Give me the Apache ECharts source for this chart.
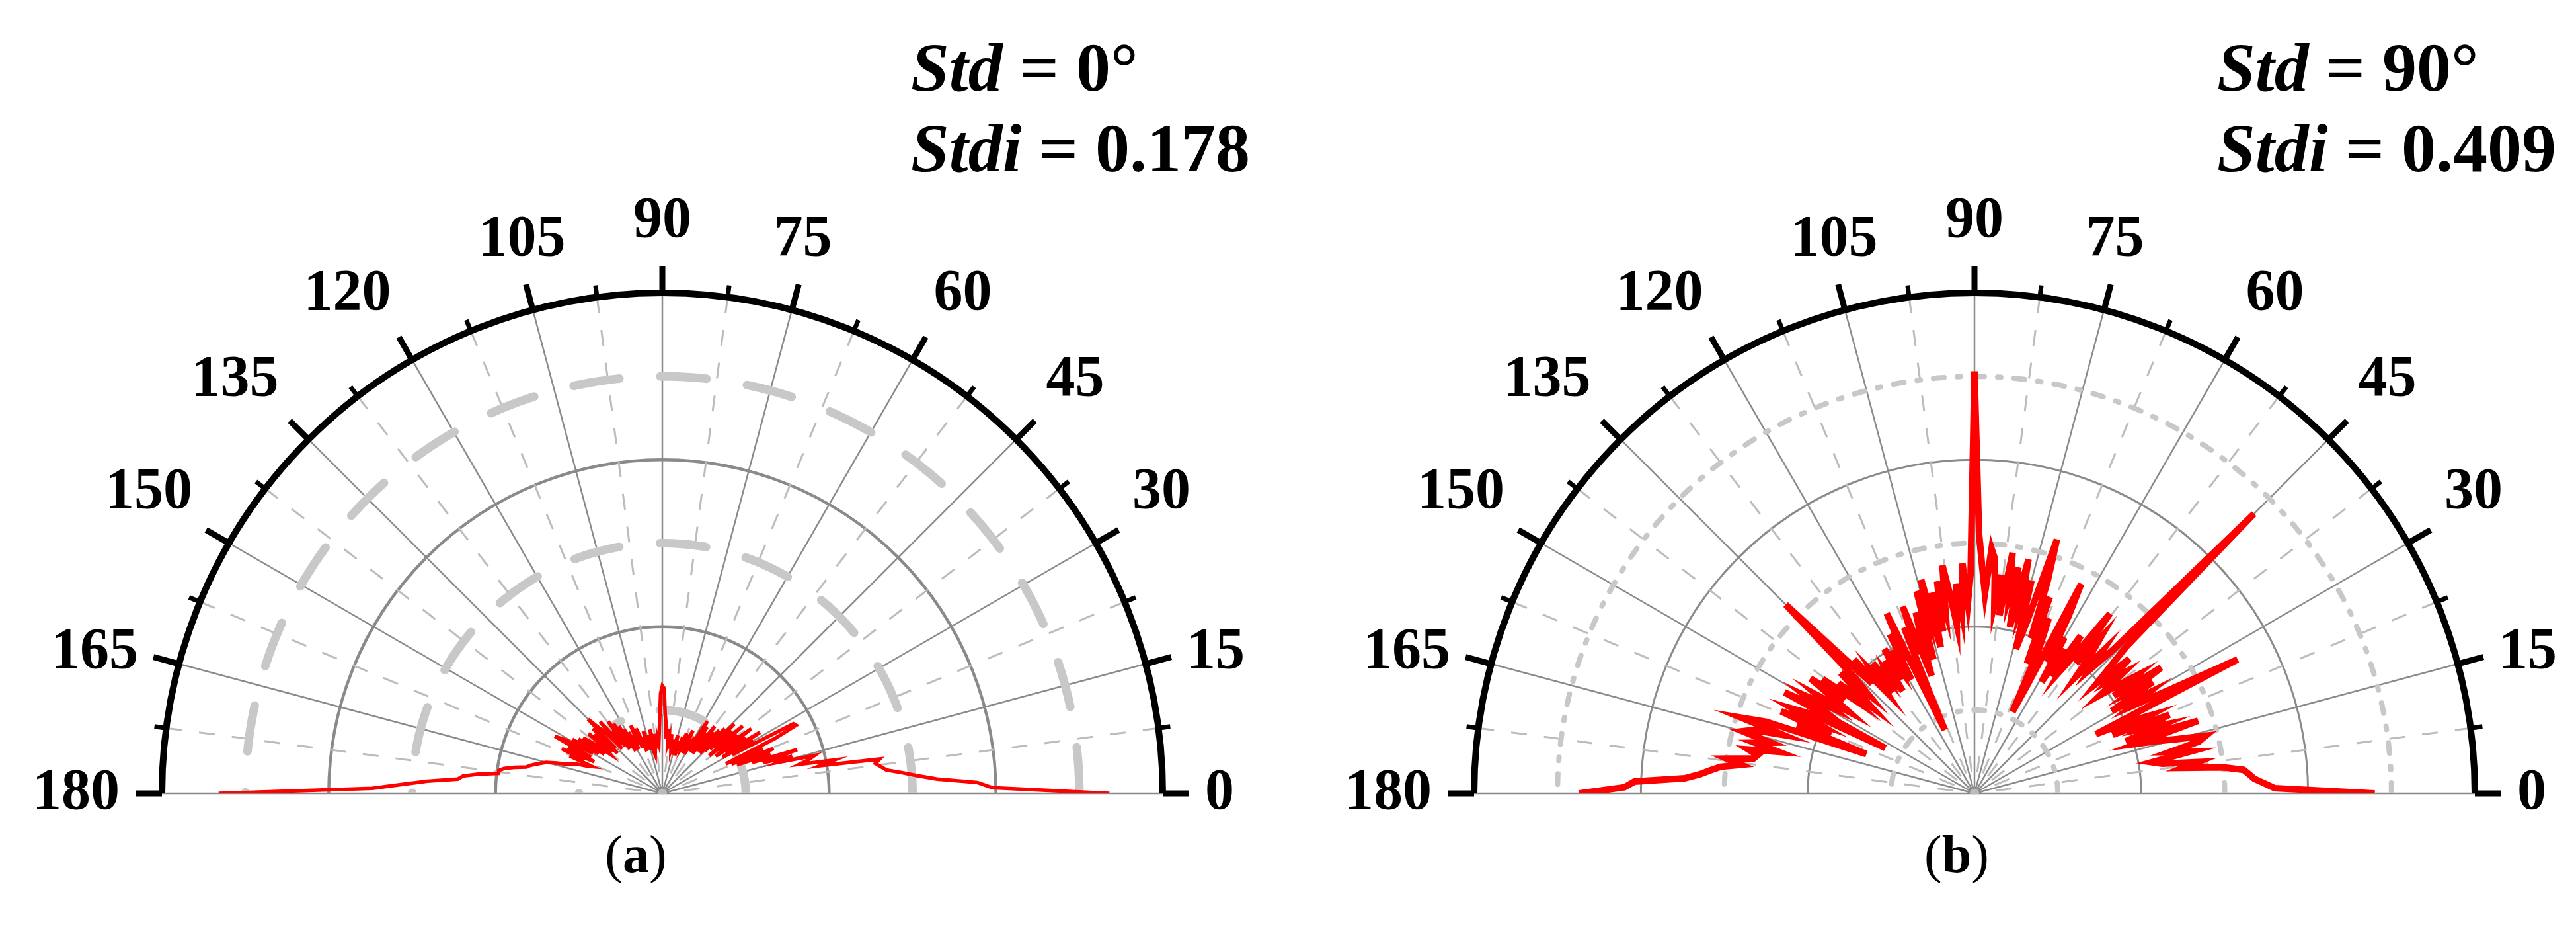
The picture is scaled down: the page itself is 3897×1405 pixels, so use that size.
<!DOCTYPE html>
<html>
<head>
<meta charset="utf-8">
<script src="https://cdn.jsdelivr.net/npm/echarts@6/dist/echarts.min.js"></script>
<style>
    html, body { margin: 0; padding: 0; background: #fff; }
    #chart { width: 3897px; height: 1405px; }
</style>
</head>
<body>
<div id="chart"></div>
<script>
// angle grid of the measured distributions (deg)
const anglesDeg = Array.from({ length: 181 }, (_, i) => i)

// (a) Std = 0°, radius (outer circle = 30)
const valuesA = [
    26.8, 19.8, 18.9, 16.5, 15.3, 14.4, 13.5, 13.2, 12.9, 13.2,
    9.6, 10.5, 8.4, 9.0, 9.4, 7.2, 8.1, 6.3, 8.5, 5.7,
    6.9, 4.8, 7.2, 4.5, 6.6, 4.2, 7.5, 9.0, 8.9, 4.8,
    6.3, 4.2, 6.9, 4.5, 6.0, 3.9, 6.6, 4.2, 5.7, 3.6,
    6.3, 4.2, 5.6, 3.9, 6.0, 3.6, 5.4, 3.3, 5.1, 3.6,
    4.8, 3.3, 5.1, 3.0, 4.5, 3.3, 4.8, 3.0, 5.1, 3.0,
    3.9, 2.7, 3.6, 3.0, 4.2, 2.7, 3.3, 3.0, 3.9, 2.7,
    3.6, 3.0, 2.4, 3.3, 2.7, 3.6, 3.0, 2.4, 3.3, 2.7,
    3.0, 3.6, 2.7, 3.3, 3.0, 3.9, 3.3, 4.2, 4.8, 6.3,
    6.45, 6.0, 4.5, 3.6, 3.0, 3.3, 2.7, 3.6, 3.0, 2.7,
    3.3, 3.9, 2.7, 3.0, 3.6, 2.7, 3.3, 3.9, 3.0, 3.6,
    2.7, 3.3, 4.2, 3.0, 3.6, 4.5, 3.3, 3.9, 3.0, 4.2,
    3.3, 4.5, 3.0, 4.8, 3.6, 5.1, 3.3, 5.4, 3.6, 4.8,
    3.9, 5.7, 3.6, 5.1, 5.4, 6.3, 3.9, 5.7, 3.6, 5.4,
    3.9, 5.7, 4.2, 3.9, 5.1, 5.8, 4.2, 6.0, 4.5, 6.3,
    4.8, 6.6, 7.3, 4.8, 6.3, 4.5, 6.6, 5.1, 6.0, 4.5,
    4.8, 5.4, 5.7, 6.0, 6.6, 7.2, 7.5, 7.8, 8.1, 8.3,
    9.0, 9.6, 9.9, 9.9, 11.1, 12.0, 12.3, 14.1, 15.6, 17.4,
    26.6
]

// (b) Std = 90°
const valuesB = [
    24.0, 18.0, 17.4, 16.8, 16.5, 16.2, 15.0, 12.6, 13.5, 11.4,
    10.8, 13.2, 12.0, 13.8, 14.3, 12.6, 11.4, 10.2, 14.1, 9.6,
    12.0, 10.8, 12.6, 9.0, 11.4, 10.2, 8.1, 17.7, 13.2, 10.8,
    12.0, 9.6, 12.6, 11.1, 13.5, 10.2, 12.0, 10.8, 9.6, 11.4,
    10.5, 12.3, 9.9, 11.1, 12.6, 23.7, 12.0, 10.2, 11.4, 9.3,
    10.8, 12.0, 9.9, 13.5, 10.5, 9.0, 11.4, 8.4, 10.2, 7.8,
    10.8, 9.0, 12.0, 14.1, 7.2, 5.4, 9.6, 11.4, 8.4, 12.6,
    9.9, 13.5, 16.0, 10.8, 9.0, 13.2, 11.4, 14.4, 10.2, 13.8,
    12.0, 14.6, 10.8, 13.2, 11.4, 14.1, 14.7, 12.0, 13.5, 15.6,
    25.3, 13.2, 11.4, 13.8, 10.8, 12.6, 10.2, 12.0, 13.8, 11.1,
    12.9, 9.9, 12.3, 9.0, 13.2, 10.8, 12.6, 8.4, 11.4, 9.6,
    7.5, 12.0, 9.0, 10.8, 6.6, 4.2, 12.0, 9.0, 10.8, 7.8,
    9.9, 8.7, 10.2, 8.1, 9.6, 7.5, 9.0, 8.4, 9.9, 7.8,
    9.3, 8.1, 10.8, 9.0, 11.4, 16.0, 9.9, 8.7, 10.8, 9.3,
    8.1, 10.5, 9.0, 11.4, 9.6, 12.0, 10.2, 9.0, 11.1, 9.9,
    11.7, 10.5, 12.9, 6.0, 10.8, 12.0, 10.2, 12.6, 9.3, 11.4,
    6.9, 13.2, 14.7, 12.0, 13.8, 14.4, 12.6, 13.5, 12.0, 13.8,
    13.2, 13.4, 15.0, 14.1, 15.3, 15.9, 16.5, 17.4, 20.4, 21.0,
    23.7
]

// thick dashed reference rings (radius values)
const ringLevels = [5, 15, 25]
const angleLabels = [0, 15, 30, 45, 60, 75, 90, 105, 120, 135, 150, 165, 180]
const stdTexts = ['0°', '90°']
const stdiTexts = ['0.178', '0.409']
const panelNames = ['a', 'b']

const centers = [[1002, 1200], [2987, 1200]]
const R = 757
const FONT = 'Liberation Serif, Times New Roman, serif'

let polar = []
let angleAxis = []
let radiusAxis = []
let series = []
let graphic = []

function addPanel(idx, values, redWidth, ringStyle, circleWidth) {
    polar.push({ center: centers[idx], radius: R })
    angleAxis.push({
        polarIndex: idx,
        type: 'value',
        min: 0,
        max: 180,
        interval: 15,
        startAngle: 0,
        endAngle: 180,
        clockwise: false,
        axisLine: { lineStyle: { color: '#000', width: 10 } },
        axisTick: { length: 40, lineStyle: { color: '#000', width: 9 } },
        minorTick: { show: true, splitNumber: 2, length: 18, lineStyle: { color: '#000', width: 7 } },
        axisLabel: {
            margin: 64,
            fontSize: 88,
            fontWeight: 'bold',
            fontFamily: FONT,
            color: '#000',
            formatter: v => angleLabels.indexOf(v) >= 0 ? String(v) : ''
        },
        splitLine: { lineStyle: { color: '#8a8a8a', width: 2.5 } },
        minorSplitLine: { show: true, lineStyle: { color: '#bcbcbc', width: 3, type: [24, 26] } }
    })
    radiusAxis.push({
        polarIndex: idx,
        type: 'value',
        min: 0,
        max: 30,
        interval: 10,
        axisLine: { show: false },
        axisTick: { show: false },
        axisLabel: { show: false },
        splitLine: { lineStyle: { color: ['#8a8a8a', '#8a8a8a', '#8a8a8a', '#000'], width: circleWidth } }
    })
    ringLevels.forEach(lv => {
        series.push({
            type: 'line',
            coordinateSystem: 'polar',
            polarIndex: idx,
            symbol: 'none',
            silent: true,
            z: 1,
            lineStyle: ringStyle,
            data: anglesDeg.map(a => [lv, a])
        })
    })
    series.push({
        type: 'line',
        coordinateSystem: 'polar',
        polarIndex: idx,
        symbol: 'none',
        z: 3,
        lineStyle: { color: '#ff0000', width: redWidth, join: 'miter' },
        data: values.map((v, i) => [v, anglesDeg[i]])
    })

    // Std / Stdi annotation
    const tx = [1378, 3354][idx]
    graphic.push({
        type: 'text',
        left: tx,
        top: 58,
        style: {
            text: '{i|Std}{b| = ' + stdTexts[idx] + '}\n{i|Stdi}{b| = ' + stdiTexts[idx] + '}',
            rich: {
                i: { fontFamily: FONT, fontSize: 104, fontWeight: 'bold', fontStyle: 'italic', fill: '#000', lineHeight: 122 },
                b: { fontFamily: FONT, fontSize: 104, fontWeight: 'bold', fill: '#000', lineHeight: 122 }
            }
        }
    })
    // caption
    graphic.push({
        type: 'text',
        x: [962, 2960][idx],
        y: 1298,
        style: {
            text: '{p|(}{b|' + panelNames[idx] + '}{p|)}',
            align: 'center',
            verticalAlign: 'middle',
            rich: {
                p: { fontFamily: FONT, fontSize: 80, fill: '#000' },
                b: { fontFamily: FONT, fontSize: 80, fontWeight: 'bold', fill: '#000' }
            }
        }
    })
}

addPanel(0, valuesA, 5.5, { color: '#c8c8c8', width: 13, type: [70, 62], cap: 'round' }, 4.5)
addPanel(1, valuesB, 10, { color: '#c8c8c8', width: 8, type: [16, 20, 5, 20], cap: 'round' }, 3)

const myChart = echarts.init(document.getElementById('chart'))
myChart.setOption({
    animation: false,
    backgroundColor: '#fff',
    polar: polar,
    angleAxis: angleAxis,
    radiusAxis: radiusAxis,
    series: series,
    graphic: graphic
})
window.addEventListener('resize', myChart.resize)
</script>
</body>
</html>
